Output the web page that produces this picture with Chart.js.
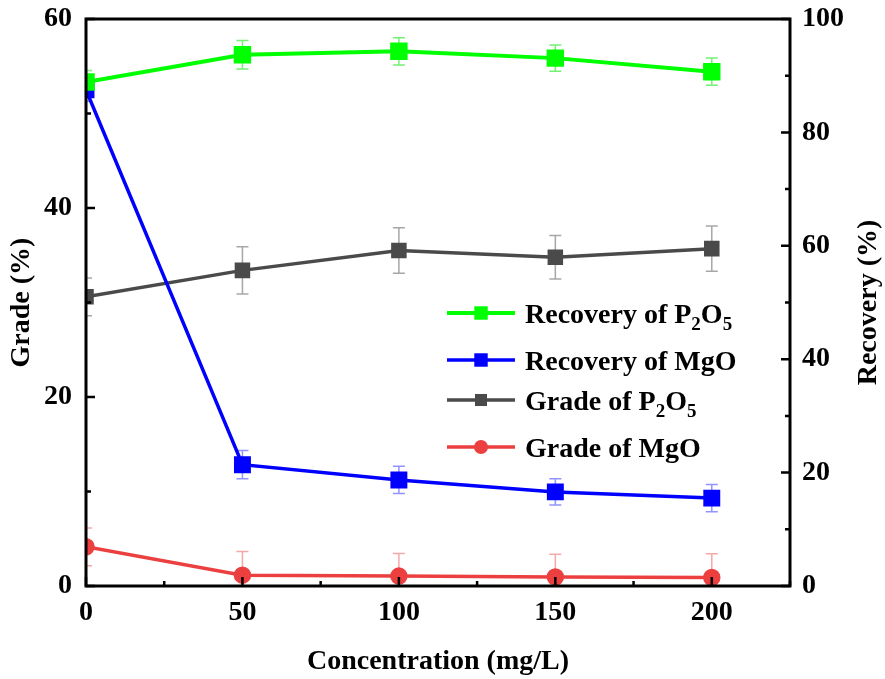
<!DOCTYPE html>
<html>
<head>
<meta charset="utf-8">
<script src="https://cdn.jsdelivr.net/npm/chart.js@4.4.1/dist/chart.umd.min.js"></script>
<style>
  html, body { margin: 0; padding: 0; background: #fff; }
  #wrap { width: 885px; height: 679px; }
</style>
</head>
<body>
<div id="wrap"><canvas id="myChart" width="885" height="679"></canvas></div>
<script>
// data
var concentration = [0, 50, 100, 150, 200];
var recoveryP2O5 = [88.9, 93.7, 94.3, 93.1, 90.7];
var recoveryP2O5Err = [2.0, 2.5, 2.4, 2.3, 2.4];
var recoveryMgO = [87.5, 21.4, 18.7, 16.6, 15.5];
var recoveryMgOErr = [2.0, 2.5, 2.4, 2.3, 2.4];
var gradeP2O5 = [30.6, 33.4, 35.5, 34.8, 35.7];
var gradeP2O5Err = [2.0, 2.5, 2.4, 2.3, 2.4];
var gradeMgO = [4.15, 1.15, 1.05, 0.95, 0.9];
var gradeMgOErr = [2.0, 2.5, 2.4, 2.4, 2.5];

var xTicks = [0, 50, 100, 150, 200];
var gradeTicks = [0, 20, 40, 60];
var recoveryTicks = [0, 20, 40, 60, 80, 100];

var FONT = 'Liberation Serif, Times New Roman, serif';

function pts(xs, ys) {
    return xs.map(function (x, i) { return { x: x, y: ys[i] }; });
}

// legend entries, text split in parts so the subscripts can be drawn smaller
var legendItems = [
    { ds: 0, parts: [['Recovery of P', 0], ['2', 1], ['O', 0], ['5', 1]] },
    { ds: 1, parts: [['Recovery of MgO', 0]] },
    { ds: 2, parts: [['Grade of P', 0], ['2', 1], ['O', 0], ['5', 1]] },
    { ds: 3, parts: [['Grade of MgO', 0]] }
];

var errorBars = {
    id: 'errorBars',
    beforeDatasetsDraw: function (chart) {
        var ctx = chart.ctx, a = chart.chartArea;
        ctx.save();
        ctx.beginPath();
        ctx.rect(a.left, a.top, a.right - a.left, a.bottom - a.top);
        ctx.clip();
        chart.data.datasets.forEach(function (ds) {
            var xs = chart.scales.x, ys = chart.scales[ds.yAxisID];
            ctx.strokeStyle = ds.errColor;
            ctx.lineWidth = 1.5;
            ds.data.forEach(function (p, i) {
                var px = xs.getPixelForValue(p.x);
                var top = ys.getPixelForValue(p.y + ds.err[i]);
                var bot = ys.getPixelForValue(p.y - ds.err[i]);
                ctx.beginPath();
                ctx.moveTo(px, top); ctx.lineTo(px, bot);
                ctx.moveTo(px - 6, top); ctx.lineTo(px + 6, top);
                ctx.moveTo(px - 6, bot); ctx.lineTo(px + 6, bot);
                ctx.stroke();
            });
        });
        ctx.restore();
    }
};

var frame = {
    id: 'frame',
    afterDraw: function (chart) {
        var ctx = chart.ctx, a = chart.chartArea;
        var x = chart.scales.x, yl = chart.scales.yGrade, yr = chart.scales.yRec;
        ctx.save();
        ctx.strokeStyle = '#000';
        ctx.lineWidth = 3;
        ctx.strokeRect(a.left, a.top, a.right - a.left, a.bottom - a.top);

        // inward ticks
        ctx.lineWidth = 2.5;
        ctx.beginPath();
        for (var v = 0; v <= 225; v += 25) {
            var px = x.getPixelForValue(v), len = v % 50 === 0 ? 9 : 5;
            ctx.moveTo(px, a.bottom); ctx.lineTo(px, a.bottom - len);
        }
        for (var g = 0; g <= 60; g += 10) {
            var py = yl.getPixelForValue(g), l2 = g % 20 === 0 ? 9 : 5;
            ctx.moveTo(a.left, py); ctx.lineTo(a.left + l2, py);
        }
        for (var r = 0; r <= 100; r += 10) {
            var py2 = yr.getPixelForValue(r), l3 = r % 20 === 0 ? 9 : 5;
            ctx.moveTo(a.right, py2); ctx.lineTo(a.right - l3, py2);
        }
        ctx.stroke();

        // right axis title reads bottom to top
        ctx.fillStyle = '#000';
        ctx.font = 'bold 28px ' + FONT;
        ctx.textAlign = 'center';
        ctx.textBaseline = 'middle';
        ctx.translate(869, (a.top + a.bottom) / 2);
        ctx.rotate(-Math.PI / 2);
        ctx.fillText('Recovery (%)', 0, 0);
        ctx.restore();

        // legend
        ctx.save();
        var rows = [313, 360, 400, 447];
        legendItems.forEach(function (item, i) {
            var ds = chart.data.datasets[item.ds];
            var y = rows[i];
            ctx.strokeStyle = ds.borderColor;
            ctx.lineWidth = ds.borderWidth;
            ctx.beginPath();
            ctx.moveTo(447, y); ctx.lineTo(515, y);
            ctx.stroke();
            ctx.fillStyle = ds.backgroundColor;
            if (ds.pointStyle === 'circle') {
                ctx.beginPath();
                ctx.arc(481, y, ds.pointRadius, 0, Math.PI * 2);
                ctx.fill();
            } else {
                var s = ds.pointRadius * Math.SQRT1_2;
                ctx.fillRect(481 - s, y - s, 2 * s, 2 * s);
            }
            var tx = 525;
            ctx.fillStyle = '#000';
            ctx.textAlign = 'left';
            ctx.textBaseline = 'alphabetic';
            item.parts.forEach(function (p) {
                ctx.font = 'bold ' + (p[1] ? 19 : 28) + 'px ' + FONT;
                ctx.fillText(p[0], tx, y + 10 + (p[1] ? 7 : 0));
                tx += ctx.measureText(p[0]).width;
            });
        });
        ctx.restore();
    }
};

function fixY(width) {
    return function (s) {
        s.width = width;
        s.paddingTop = 0;
        s.paddingBottom = 0;
    };
}

var ctx = document.getElementById('myChart').getContext('2d');

var myChart = new Chart(ctx, {
    type: 'line',
    data: {
        datasets: [{
            label: 'Recovery of P2O5',
            data: pts(concentration, recoveryP2O5),
            err: recoveryP2O5Err,
            yAxisID: 'yRec',
            borderColor: '#00ff00',
            backgroundColor: '#00ff00',
            errColor: 'rgba(0,230,0,0.55)',
            borderWidth: 4,
            pointStyle: 'rect',
            pointRadius: 9.5
        }, {
            label: 'Recovery of MgO',
            data: pts(concentration, recoveryMgO),
            err: recoveryMgOErr,
            yAxisID: 'yRec',
            borderColor: '#0000ff',
            backgroundColor: '#0000ff',
            errColor: 'rgba(40,40,255,0.5)',
            borderWidth: 3.5,
            pointStyle: 'rect',
            pointRadius: 9.5
        }, {
            label: 'Grade of P2O5',
            data: pts(concentration, gradeP2O5),
            err: gradeP2O5Err,
            yAxisID: 'yGrade',
            borderColor: '#4a4a4a',
            backgroundColor: '#4a4a4a',
            errColor: 'rgba(80,80,80,0.5)',
            borderWidth: 3.5,
            pointStyle: 'rect',
            pointRadius: 8.5
        }, {
            label: 'Grade of MgO',
            data: pts(concentration, gradeMgO),
            err: gradeMgOErr,
            yAxisID: 'yGrade',
            borderColor: '#ec3f3f',
            backgroundColor: '#ec3f3f',
            errColor: 'rgba(236,63,63,0.45)',
            borderWidth: 3.5,
            pointStyle: 'circle',
            pointRadius: 7
        }]
    },
    options: {
        responsive: false,
        animation: false,
        layout: { padding: { top: 19, left: 0, right: 0, bottom: 0 } },
        plugins: {
            legend: { display: false },
            tooltip: { enabled: false }
        },
        scales: {
            x: {
                type: 'linear',
                min: 0,
                max: 225,
                afterBuildTicks: function (s) {
                    s.ticks = xTicks.map(function (v) { return { value: v }; });
                },
                afterFit: function (s) { s.height = 93; },
                grid: { display: false, drawTicks: false },
                border: { display: false },
                ticks: {
                    color: '#000',
                    padding: 10,
                    maxRotation: 0,
                    font: { family: FONT, size: 28, weight: 'bold' }
                },
                title: {
                    display: true,
                    text: 'Concentration (mg/L)',
                    color: '#000',
                    padding: { top: 0, bottom: 0 },
                    font: { family: FONT, size: 28, weight: 'bold' }
                }
            },
            yGrade: {
                position: 'left',
                min: 0,
                max: 60,
                afterBuildTicks: function (s) {
                    s.ticks = gradeTicks.map(function (v) { return { value: v }; });
                },
                afterFit: fixY(86),
                grid: { display: false, drawTicks: false },
                border: { display: false },
                ticks: {
                    color: '#000',
                    padding: 14,
                    font: { family: FONT, size: 28, weight: 'bold' }
                },
                title: {
                    display: true,
                    text: 'Grade (%)',
                    color: '#000',
                    padding: { top: 5, bottom: 0 },
                    font: { family: FONT, size: 28, weight: 'bold' }
                }
            },
            yRec: {
                position: 'right',
                min: 0,
                max: 100,
                afterBuildTicks: function (s) {
                    s.ticks = recoveryTicks.map(function (v) { return { value: v }; });
                },
                afterFit: fixY(95),
                grid: { display: false, drawTicks: false },
                border: { display: false },
                ticks: {
                    color: '#000',
                    padding: 12,
                    font: { family: FONT, size: 28, weight: 'bold' }
                }
            }
        }
    },
    plugins: [errorBars, frame]
});
</script>
</body>
</html>
